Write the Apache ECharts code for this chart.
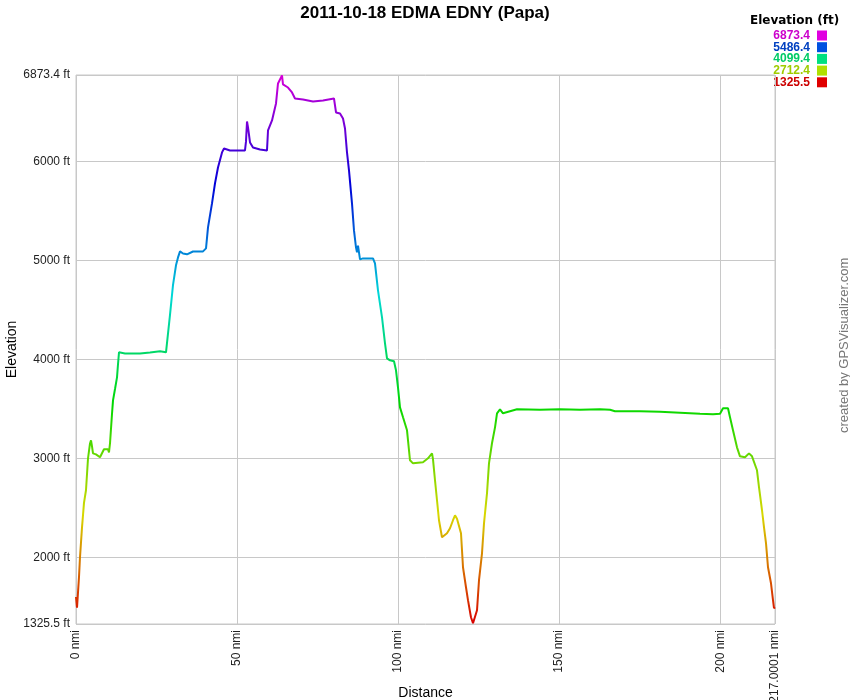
<!DOCTYPE html>
<html>
<head>
<meta charset="utf-8">
<script src="https://cdn.jsdelivr.net/npm/echarts@6/dist/echarts.min.js"></script>
<style>html,body{margin:0;padding:0;background:#fff}#c{width:850px;height:700px}</style>
</head>
<body>
<div id="c"></div>
<script>
// Distance (nmi)
const distance = [0,0.31,0.62,0.93,1.24,1.86,2.48,3.10,3.73,4.35,4.66,4.97,5.28,6.21,6.83,7.45,8.07,8.69,9.31,9.93,10.24,10.56,11.18,11.49,12.11,12.73,13.04,13.35,13.97,15.21,19.87,22.97,26.08,27.94,29.18,30.11,31.04,31.67,32.29,33.22,34.46,36.32,39.43,40.36,40.98,42.22,43.15,44.08,45.33,45.95,47.81,52.46,52.77,53.09,53.40,54.02,54.95,57.12,59.29,59.61,60.85,62.09,62.71,63.95,64.26,65.81,67.06,67.99,70.47,73.58,76.68,80.09,80.72,81.96,82.89,83.51,84.13,84.75,85.68,86.30,86.92,87.23,87.54,88.17,89.10,92.20,92.82,93.75,95.00,95.93,96.55,97.48,98.72,99.34,99.96,100.58,101.52,102.76,103.07,103.69,104.62,107.72,109.28,110.52,110.83,111.45,112.07,112.69,113.62,113.93,115.17,116.11,117.04,117.66,118.28,118.90,119.52,120.14,121.07,121.69,122.62,123.25,123.87,124.49,125.11,126.04,126.66,127.59,128.21,129.14,130.08,130.70,131.63,132.56,134.73,136.91,144.05,150.25,156.46,162.67,165.78,167.33,175.09,181.30,187.51,193.72,197.75,199.93,200.86,202.41,203.03,203.96,205.20,206.13,207.69,208.93,209.86,210.48,211.41,212.04,212.97,213.59,214.21,214.83,215.76,216.38,216.69,217.0001];
// Elevation (ft)
const elevation = [1600,1490,1500,1800,2000,2300,2550,2677,3000,3150,3182,3120,3050,3040,3030,3010,2990,3091,3100,3091,3060,3152,3450,3586,3700,3818,3950,4071,4081,4060,4060,4070,4081,4071,4450,4750,4950,5030,5091,5070,5061,5090,5091,5121,5333,5576,5778,5939,6091,6131,6111,6111,6200,6404,6343,6192,6141,6121,6111,6313,6414,6586,6788,6869,6778,6747,6697,6636,6626,6606,6616,6636,6495,6485,6434,6333,6091,5909,5576,5303,5131,5081,5150,5010,5020,5020,4970,4697,4424,4162,4010,3990,3980,3889,3717,3515,3414,3283,3182,2980,2949,2960,3000,3050,2990,2778,2576,2374,2202,2222,2242,2293,2374,2424,2390,2404,2242,1899,1697,1566,1394,1333,1340,1465,1768,2040,2343,2646,2949,3152,3313,3455,3495,3455,3475,3495,3490,3495,3490,3495,3490,3475,3475,3470,3460,3450,3444,3450,3505,3505,3414,3283,3111,3020,3010,3050,3020,3000,2879,2707,2475,2303,2141,1899,1737,1566,1485,1495];
const xTicks = [0,50,100,150,200,217.0001];
const yTicks = [1325.5,2000,3000,4000,5000,6000,6873.4];
const legendValues = [6873.4,5486.4,4099.4,2712.4,1325.5];
const legendColors = ['#e000e0','#0050e0','#00e080','#b0e000','#e00000'];
const legendTextColors = ['#cc00cc','#0040c0','#00cc66','#a0cc00','#cc0000'];
const rampColors = ['#d80000','#d8d800','#00d800','#00d8d8','#0000d8','#d800d8'];

const FONT = 'Liberation Sans, Arial, sans-serif';
const chart = echarts.init(document.getElementById('c'), null, {renderer:'canvas'});
const graphics = [{
  type:'text', x: 750, y: 21,
  style:{text:'Elevation (ft)', font:'bold 12px DejaVu Sans, sans-serif', fill:'#000', verticalAlign:'middle'}
},{
  type:'text', rotation: Math.PI/2, x: 838, y: 433,
  style:{text:'created by GPSVisualizer.com', font:'13px ' + FONT, fill:'#777'}
}];
legendValues.forEach((v,i)=>{
  graphics.push({type:'text', x:810, y:35.5+i*11.7,
    style:{text:v.toFixed(1), font:'bold 12px ' + FONT, fill:legendTextColors[i], align:'right', verticalAlign:'middle'}});
  graphics.push({type:'rect', shape:{x:817, y:30.5+i*11.7, width:10, height:10}, style:{fill:legendColors[i]}});
});
chart.setOption({
  animation:false,
  title:{text:'2011-10-18 EDMA EDNY (Papa)', left:'center', top:0,
    textStyle:{fontFamily:FONT, fontWeight:'bold', fontSize:17, color:'#000'}},
  grid:{left:76, right:75, top:75, bottom:76, containLabel:false, outerBoundsMode:'none',
    show:true, borderColor:'#c8c8c8', borderWidth:1},
  xAxis:{type:'value', min:0, max:217.0001, name:'Distance', nameLocation:'middle', nameGap:62,
    nameMoveOverlap:false,
    nameTextStyle:{fontFamily:FONT, fontSize:14, color:'#000'},
    axisLine:{show:false}, axisTick:{show:false, customValues:xTicks},
    axisLabel:{customValues:xTicks, rotate:90, margin:6, fontFamily:FONT, fontSize:12, color:'#222',
      formatter:v=>v+' nmi'},
    splitLine:{show:true, lineStyle:{color:'#c8c8c8', width:1}}},
  yAxis:{type:'value', min:1325.5, max:6873.4, name:'Elevation', nameLocation:'middle', nameGap:57,
    nameMoveOverlap:false,
    nameTextStyle:{fontFamily:FONT, fontSize:14, color:'#000'},
    axisLine:{show:false}, axisTick:{show:false, customValues:yTicks},
    axisLabel:{customValues:yTicks, margin:6, fontFamily:FONT, fontSize:12, color:'#222',
      formatter:v=>v+' ft'},
    splitLine:{show:true, lineStyle:{color:'#c8c8c8', width:1}}},
  visualMap:{show:false, type:'continuous', dimension:1, min:1325.5, max:6873.4, seriesIndex:0,
    inRange:{color:rampColors}},
  series:[{type:'line', data:distance.map((d,i)=>[d,elevation[i]]), showSymbol:false, symbol:'none',
    lineStyle:{width:2}}],
  graphic:graphics
});
</script>
</body>
</html>
